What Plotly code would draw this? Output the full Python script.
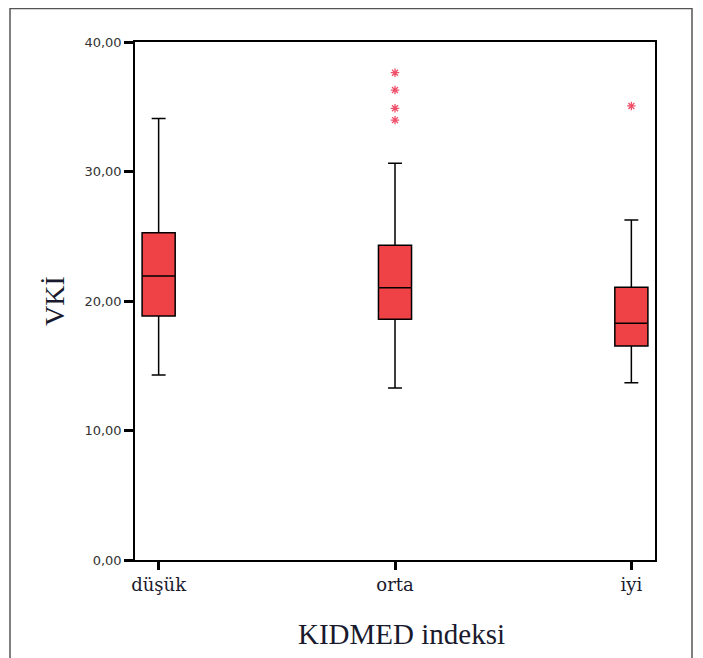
import plotly.graph_objects as go

categories = ["düşük", "orta", "iyi"]
q1 = [18.84, 18.59, 16.53]
median = [21.93, 21.03, 18.28]
q3 = [25.27, 24.30, 21.06]
lower_whisker = [14.28, 13.28, 13.69]
upper_whisker = [34.10, 30.63, 26.25]

outlier_x = ["orta", "orta", "orta", "orta", "iyi"]
outlier_y = [37.63, 36.29, 34.88, 33.97, 35.06]

y_ticks = [0, 10, 20, 30, 40]
y_ticklabels = ["0,00", "10,00", "20,00", "30,00", "40,00"]

fig = go.Figure()
fig.add_trace(go.Box(
    x=categories, q1=q1, median=median, q3=q3,
    lowerfence=lower_whisker, upperfence=upper_whisker,
    fillcolor="#ee4246", line=dict(color="black", width=1.5),
    width=0.14, whiskerwidth=0.42, boxpoints=False, showlegend=False,
    hoverinfo="y",
))
fig.add_trace(go.Scatter(
    x=outlier_x, y=outlier_y, mode="markers",
    marker=dict(symbol="asterisk-open", size=7, color="#f0506a",
                line=dict(color="#f0506a", width=1.3)),
    showlegend=False,
))

# page-pixel geometry of the plot area (page has an 8px body margin)
OFF = 8
L, R, T, B = 135, 655, 42, 560
W, H = R - L, B - T
FW, FH = 695, 650

def px(x):
    return (x - L) / W

def py(y):
    return (B - y) / H

fig.update_layout(
    width=FW, height=FH,
    margin=dict(l=L - OFF, r=FW - (R - OFF), t=T - OFF, b=FH - (B - OFF)),
    paper_bgcolor="white", plot_bgcolor="white",
    xaxis=dict(
        type="category", categoryorder="array", categoryarray=categories,
        range=[-0.1, 2.1], showline=True, linecolor="black", linewidth=1.5,
        mirror=True, showgrid=False, zeroline=False,
        ticks="outside", ticklen=8, tickwidth=2.5, tickcolor="black",
        tickfont=dict(family="DejaVu Serif", size=18, color="#1a1a2e"),
    ),
    yaxis=dict(
        range=[0, 40], showline=True, linecolor="black", linewidth=1.5,
        mirror=True, showgrid=False, zeroline=False,
        tickvals=y_ticks, ticktext=y_ticklabels,
        ticks="outside", ticklen=9, tickwidth=2.5, tickcolor="black",
        tickfont=dict(family="DejaVu Sans", size=13, color="#333333"),
    ),
    shapes=[dict(
        type="rect", xref="paper", yref="paper",
        x0=px(10), x1=px(692), y0=py(670), y1=py(8.5),
        line=dict(color="#555555", width=1.5), fillcolor="rgba(0,0,0,0)",
        layer="below",
    )],
    annotations=[
        dict(text="KIDMED indeksi", xref="paper", yref="paper",
             x=px(401), y=py(634), xanchor="center", yanchor="middle",
             showarrow=False,
             font=dict(family="Liberation Serif", size=29, color="#1a1a2e")),
        dict(text="VKİ", xref="paper", yref="paper",
             x=px(54), y=py(301), xanchor="center", yanchor="middle",
             showarrow=False, textangle=-90,
             font=dict(family="Liberation Serif", size=28, color="#1a1a2e")),
    ],
)

fig.write_html("out.html")
